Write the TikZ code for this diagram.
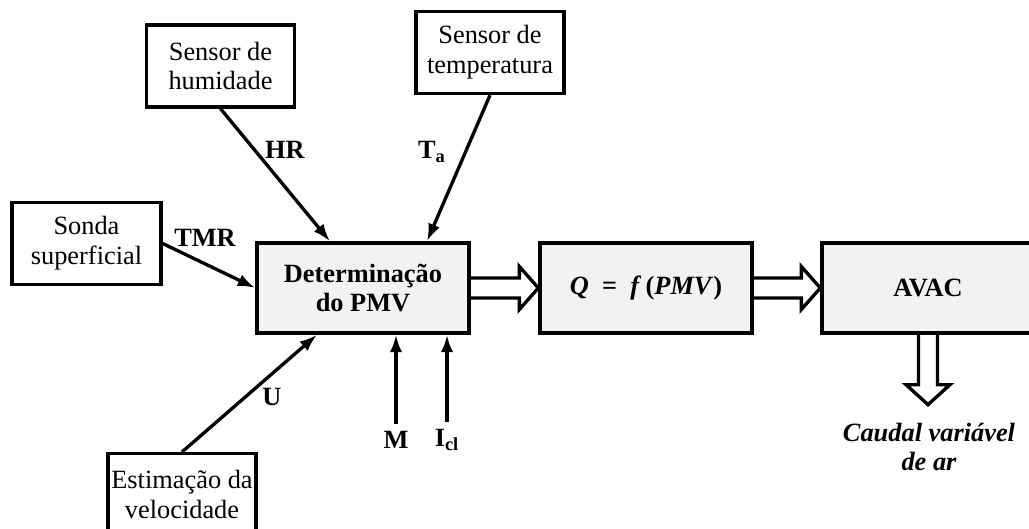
\documentclass[tikz,border=0pt]{standalone}
\usepackage{fontspec}
\setmainfont{Liberation Serif}
\usetikzlibrary{arrows.meta, calc}
\definecolor{boxgray}{RGB}{242,242,242}

\begin{document}
\fontsize{15}{17}\selectfont
\begin{tikzpicture}[
        box/.style={rectangle, draw, line width=1.9pt, minimum width=2.96cm, minimum height=1.64cm, align=center, inner sep=2pt},
        block/.style={box, fill=boxgray, minimum width=4.24cm, minimum height=1.8cm, font=\bfseries},
        lbl/.style={font=\bfseries, inner sep=4pt},
        arrow/.style={-{Latex[length=10pt,width=7pt]}, line width=1.9pt},
        hollow/.style={draw, line width=1.9pt, line join=miter}
    ]
        \useasboundingbox (0,0) rectangle (20.58,10.56);
        \clip (0,0) rectangle (20.58,10.56);

        % Sensors (top and left)
        \node[box] (hum) at (4.41,9.24) {Sensor de\\humidade};
        \node[box] (temp) at (9.80,9.51) {Sensor de\\temperatura};
        \node[box, minimum width=2.98cm] (sonda) at (1.73,5.69) {Sonda\\superficial};
        \node[box, anchor=north] (est) at (3.64,1.52) {Estimação da\\velocidade};

        % Main chain
        \node[block] (pmv) at (7.26,4.80) {Determinação\\do PMV};
        \node[block] (q) at (12.92,4.80) {\textit{Q} \ = \ \textit{f}\,(\textit{PMV})};
        \node[block] (avac) at (18.56,4.80) {AVAC};

        % Signal labels
        \node[lbl] (hr) at (5.70,7.56) {HR};
        \node[lbl] (ta) at (8.64,7.52) {T\textsubscript{a}};
        \node[lbl] (tmr) at (4.10,5.80) {TMR};
        \node[lbl] (u) at (5.44,2.62) {U};
        \node[lbl] (m) at (7.92,1.76) {M};
        \node[lbl] (icl) at (8.94,1.76) {I\textsubscript{cl}};
        \node[font=\bfseries\itshape, align=center] (caudal) at (18.58,1.62) {Caudal variável\\de ar};

        % Inputs to PMV
        \draw[arrow] (hum.south) -- ([xshift=-0.66cm]pmv.north);
        \draw[arrow] (temp.south) -- ([xshift=1.28cm]pmv.north);
        \draw[arrow] (sonda.east) -- (pmv.west);
        \draw[arrow] (est.north) -- ([xshift=-0.92cm]pmv.south);
        \draw[arrow] (m.north) -- (m.north |- pmv.south);
        \draw[arrow] (icl.north) -- (icl.north |- pmv.south);

        % Hollow arrows
        \draw[hollow] ([yshift=0.2cm]pmv.east) -- ($(q.west)+(-0.38,0.2)$) -- ++(0,0.23) -- (q.west)
            -- ++(-0.38,-0.43) -- ++(0,0.23) -- ([yshift=-0.2cm]pmv.east);
        \draw[hollow] ([yshift=0.2cm]q.east) -- ($(avac.west)+(-0.38,0.2)$) -- ++(0,0.23) -- (avac.west)
            -- ++(-0.38,-0.43) -- ++(0,0.23) -- ([yshift=-0.2cm]q.east);
        \coordinate (vent) at ($(avac.south)+(0,-1.4)$);
        \draw[hollow] ([xshift=-0.19cm]avac.south) -- ($(vent)+(-0.19,0.4)$) -- ++(-0.25,0) -- (vent)
            -- ++(0.44,0.4) -- ++(-0.25,0) -- ([xshift=0.19cm]avac.south);
    \end{tikzpicture}
\end{document}
